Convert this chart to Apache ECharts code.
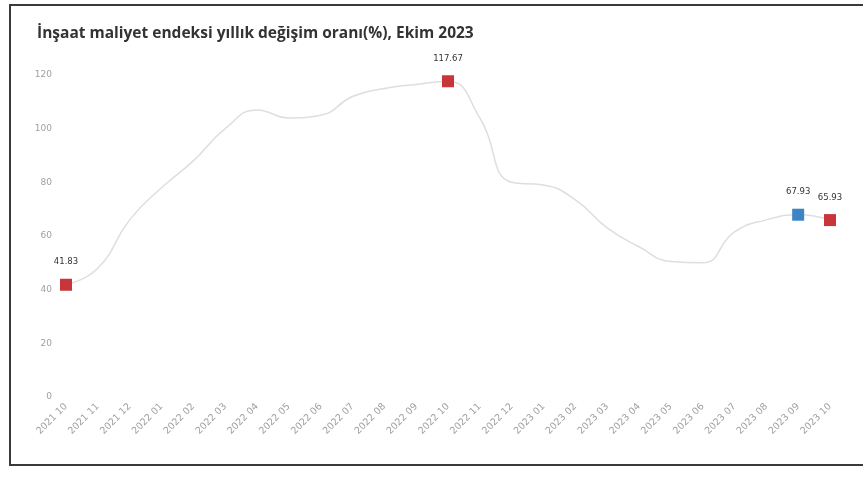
<!DOCTYPE html>
<html>
<head>
<meta charset="utf-8">
<script src="https://cdn.jsdelivr.net/npm/echarts@6/dist/echarts.min.js"></script>
<style>
html,body{margin:0;padding:0;background:#fff;}
#chart{width:863px;height:481px;}
</style>
</head>
<body>
<div id="chart"></div>
<script>
const categories = ["2021 10","2021 11","2021 12","2022 01","2022 02","2022 03","2022 04","2022 05","2022 06","2022 07","2022 08","2022 09","2022 10","2022 11","2022 12","2023 01","2023 02","2023 03","2023 04","2023 05","2023 06","2023 07","2023 08","2023 09","2023 10"];
const values = [41.83,48,66,78,88,100,107,104,105,112,115,116.5,117.67,104,80,79,73.5,63,56,50.5,50,61.5,66,67.93,65.93];
const highlightIdx = [0,12,23,24];
const highlightColors = ["#c8353a","#c8353a","#3d84c6","#c8353a"];
const yTicks = [0,20,40,60,80,100,120];

const data = values.map((v,i)=>{
  const h = highlightIdx.indexOf(i);
  if (h < 0) return {value:v, symbol:'none'};
  return {
    value:v, symbol:'rect', symbolSize:12,
    itemStyle:{color:highlightColors[h]},
    label:{show:true, position:'top', distance:12, formatter:(p)=>p.value.toFixed(2), color:'#333', fontSize:8.5, fontFamily:'DejaVu Sans'}
  };
});

const chart = echarts.init(document.getElementById('chart'));
chart.setOption({
  animation:false,
  backgroundColor:'#fff',
  title:{
    text:'İnşaat maliyet endeksi yıllık değişim oranı(%), Ekim 2023',
    left:32, top:21,
    textStyle:{fontFamily:'Open Sans', fontWeight:'bold', fontSize:15.5, color:'#333'}
  },
  graphic:[{type:'rect', shape:{x:10,y:5,width:870,height:460}, style:{fill:'none', stroke:'#3a3a3a', lineWidth:2}, silent:true}],
  grid:{left:66, right:33, top:75, bottom:84},
  xAxis:{
    type:'category', data:categories, boundaryGap:false,
    axisLine:{show:false}, axisTick:{show:false}, splitLine:{show:false},
    axisLabel:{rotate:45, fontSize:9.5, color:'#a0a0a0', margin:8, interval:0, fontFamily:'DejaVu Sans'}
  },
  yAxis:{
    type:'value', min:yTicks[0], max:yTicks[yTicks.length-1], interval:20,
    axisLine:{show:false}, axisTick:{show:false}, splitLine:{show:false},
    axisLabel:{fontSize:9, color:'#a0a0a0', margin:14, fontFamily:'DejaVu Sans'}
  },
  series:[{
    type:'line', data:data, smooth:true,
    lineStyle:{color:'#dedede', width:1.5},
    showSymbol:true
  }]
});
</script>
</body>
</html>
